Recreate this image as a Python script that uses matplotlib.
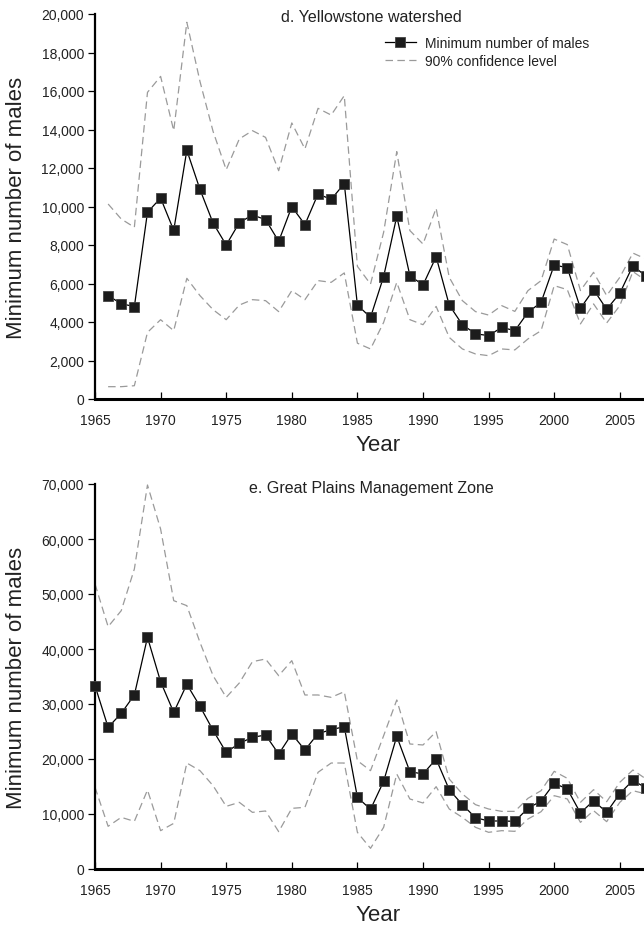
import matplotlib
matplotlib.use("Agg")
import matplotlib.pyplot as plt
from matplotlib.ticker import FuncFormatter

plt.rcParams['font.family'] = ['Liberation Sans', 'DejaVu Sans']

# d. Yellowstone watershed (1966-2007)
years_d = list(range(1966, 2008))
males_d = [5370, 4950, 4800, 9700, 10440, 8760, 12920, 10890, 9140, 8000,
           9160, 9560, 9320, 8190, 9990, 9060, 10650, 10370, 11190, 4880,
           4240, 6360, 9490, 6410, 5920, 7390, 4880, 3860, 3390, 3290,
           3720, 3550, 4500, 5020, 6960, 6820, 4710, 5680, 4660, 5490,
           6930, 6370]
upper_d = [10130, 9350, 8920, 15930, 16760, 13940, 19570, 16500, 13900, 11910,
           13510, 13940, 13590, 11860, 14340, 12990, 15100, 14750, 15760, 6890,
           5970, 8660, 12850, 8750, 8050, 9910, 6320, 5110, 4540, 4360,
           4850, 4550, 5630, 6150, 8310, 8020, 5630, 6580, 5370, 6320,
           7580, 7270]
lower_d = [640, 640, 690, 3460, 4120, 3550, 6270, 5370, 4640, 4120,
           4880, 5160, 5110, 4540, 5630, 5160, 6150, 6060, 6550, 2900,
           2600, 3980, 6060, 4120, 3860, 4810, 3200, 2600, 2340, 2250,
           2600, 2550, 3120, 3550, 5890, 5680, 3900, 4940, 3950, 4850,
           6620, 6150]

# e. Great Plains Management Zone (1965-2007)
years_e = list(range(1965, 2008))
males_e = [33330, 25760, 28300, 31640, 42120, 34060, 28480, 33580, 29580, 25210,
           21210, 22850, 23940, 24360, 20910, 24550, 21640, 24610, 25330, 25880,
           13030, 10850, 15940, 24120, 17700, 17270, 20000, 14420, 11700, 9330,
           8730, 8730, 8670, 11030, 12360, 15580, 14550, 10180, 12420, 10300,
           13700, 16120, 14730]
upper_e = [51820, 44060, 46970, 54550, 69820, 61820, 48790, 47880, 41210, 35150,
           31210, 33820, 37700, 38180, 35150, 37880, 31640, 31640, 31210, 32240,
           19700, 17880, 24240, 30730, 22730, 22550, 24970, 16360, 13640, 11700,
           10910, 10480, 10480, 12850, 14240, 17760, 16480, 12120, 14420, 12240,
           15760, 18000, 16360]
lower_e = [14850, 7760, 9390, 8670, 14360, 6970, 8300, 19270, 17880, 15150,
           11390, 12120, 10300, 10550, 6790, 11030, 11210, 17580, 19270, 19270,
           6670, 3760, 7580, 17270, 12730, 12000, 14970, 10910, 9390, 7580,
           6670, 6970, 6850, 9090, 10420, 13330, 12730, 8480, 10610, 8610,
           12120, 14240, 13640]

W, H = 644, 928
fig = plt.figure(figsize=(W / 100, H / 100), dpi=100)

text_col = '#222222'
ci_col = '#9a9a9a'


def draw_panel(ax, years, males, upper, lower, ymax, ystep, title, title_y):
    ax.plot(years, upper, color=ci_col, lw=0.9, dashes=(6, 3.5))
    ax.plot(years, lower, color=ci_col, lw=0.9, dashes=(6, 3.5))
    ax.plot(years, males, color='black', lw=0.9, marker='s', markersize=7,
            markerfacecolor='#1c1c1c', markeredgecolor='#444444',
            markeredgewidth=0.6, clip_on=False, zorder=4)
    ax.set_xlim(1965, 2009)
    ax.set_ylim(0, ymax)
    ax.set_xticks(range(1965, 2010, 5))
    ax.set_yticks(range(0, ymax + 1, ystep))
    ax.yaxis.set_major_formatter(FuncFormatter(lambda v, p: f'{int(v):,}'))
    for s in ('top', 'right'):
        ax.spines[s].set_visible(False)
    ax.spines['left'].set_linewidth(1.6)
    ax.spines['bottom'].set_linewidth(2.2)
    ax.tick_params(axis='y', direction='out', length=5, width=0.9, pad=3,
                   labelsize=10, labelcolor=text_col)
    ax.tick_params(axis='x', direction='in', length=5, width=0.9, pad=10,
                   labelsize=10, labelcolor=text_col)
    ax.set_ylabel('Minimum number of males', fontsize=16, color=text_col)
    ax.yaxis.set_label_coords(-0.117, 0.5)
    ax.set_xlabel('Year', fontsize=16, color=text_col)
    ax.xaxis.set_label_coords(0.49, -0.092)
    fig.text(371 / W, 1 - title_y / H, title, fontsize=11.5, color=text_col,
             ha='center', va='center')


left = 95 / W
width = 44 * 13.12 / W
height = 385 / H
ax1 = fig.add_axes([left, 1 - 400 / H, width, height])
ax2 = fig.add_axes([left, 1 - 870 / H, width, height])

draw_panel(ax1, years_d, males_d, upper_d, lower_d, 20000, 2000,
           'd. Yellowstone watershed', 18)
draw_panel(ax2, years_e, males_e, upper_e, lower_e, 70000, 10000,
           'e. Great Plains Management Zone', 489)

h = ax1.get_lines()
fig.legend([h[2], h[0]], ['Minimum number of males', '90% confidence level'],
           loc='upper left', bbox_to_anchor=(385 / W, 1 - 37 / H),
           frameon=False, fontsize=10, handlelength=2.2, handletextpad=0.7,
           labelspacing=0.3, borderpad=0, borderaxespad=0, labelcolor=text_col)

fig.savefig('out.png', dpi=100)
